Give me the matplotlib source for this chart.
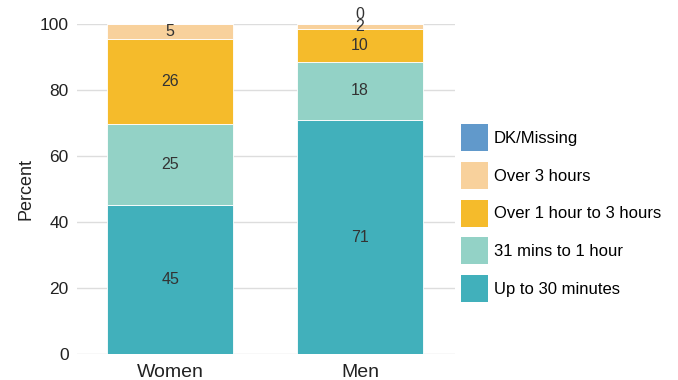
import numpy as np
import matplotlib
matplotlib.use("Agg")
import matplotlib.pyplot as plt
from matplotlib.patches import Patch

plt.rcParams['font.family'] = ['Liberation Sans', 'DejaVu Sans']

categories = ["Women", "Men"]
series_names = ["Up to 30 minutes", "31 mins to 1 hour", "Over 1 hour to 3 hours",
                "Over 3 hours", "DK/Missing"]
up_to_30 = [45.2, 70.8]
mins31_to_1h = [24.6, 17.8]
over1_to_3 = [25.6, 9.8]
over3 = [4.6, 1.6]
dk_missing = [np.nan, 0.0]
colors = ["#41b0bb", "#93d2c6", "#f5bb2b", "#f8d19c", "#6199cb"]

series = [up_to_30, mins31_to_1h, over1_to_3, over3, dk_missing]

fig = plt.figure(figsize=(6.78, 3.8), dpi=100)
ax = fig.add_axes([77/678, 26/380, (455-77)/678, (354-24)/380])

x = np.arange(len(categories))
bottom = np.zeros(len(categories))
for name, vals, col in zip(series_names, series, colors):
    v = np.array(vals, dtype=float)
    vv = np.nan_to_num(v)
    ax.bar(x, vv, width=0.667, bottom=bottom, color=col, edgecolor="white",
           linewidth=0.6, label=name, zorder=2)
    for i in range(len(x)):
        if np.isnan(v[i]):
            continue
        yc = bottom[i] + vv[i] / 2
        off = 7 if vv[i] == 0 else 0
        ax.annotate(f"{round(v[i]):d}", (x[i], yc), xytext=(0, off), textcoords="offset points",
                    ha="center", va="center", fontsize=11.5, color="#333333", zorder=3)
    bottom += vv

ax.set_xlim(-0.49, 1.5)
ax.set_ylim(0, 100)
ax.set_yticks([0, 20, 40, 60, 80, 100])
ax.set_xticks(x)
ax.set_xticklabels(categories, fontsize=14, color="#222222")
ax.tick_params(axis="y", labelsize=12.5, colors="#222222", length=0, pad=6)
ax.tick_params(axis="x", length=0, pad=7)
ax.grid(axis="y", color="#dddddd", linewidth=1, zorder=0)
for s in ax.spines.values():
    s.set_visible(False)
ax.set_ylabel("Percent", fontsize=13, color="#222222", labelpad=4)

handles = [Patch(facecolor=c, edgecolor="none") for c in colors]
fig.legend(handles[::-1], series_names[::-1], loc="upper left",
           bbox_to_anchor=(461/678, 1 - 124/380), frameon=False, fontsize=12,
           handlelength=1.62, handleheight=2.115, handletextpad=0.36,
           labelspacing=0.65, borderpad=0, borderaxespad=0)

fig.savefig("out.png", dpi=100)
